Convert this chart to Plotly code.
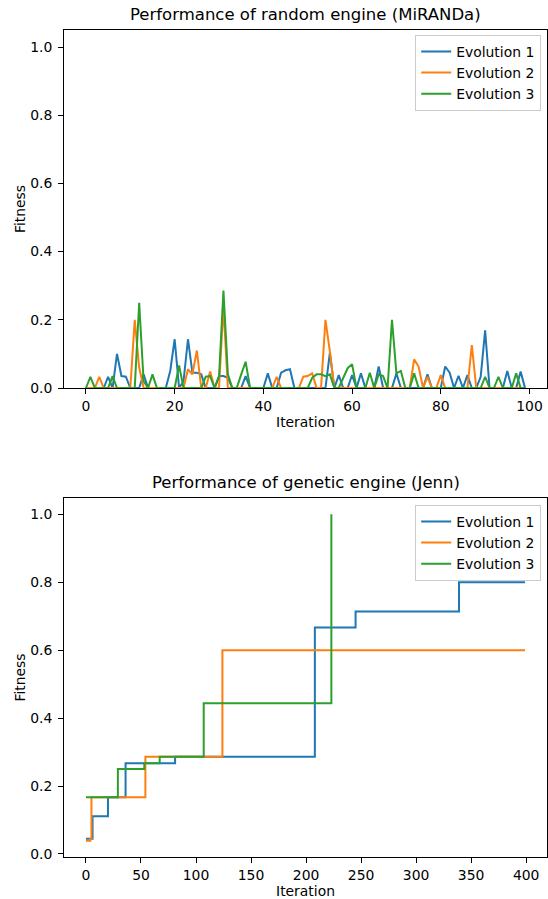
import plotly.graph_objects as go

# ---------------- data: random engine (MiRANDa) ----------------
iterations_random = list(range(100))
rand_evo1 = [0, 0, 0, 0, 0, 0.033, 0, 0.10, 0.035, 0.033,
             0, 0, 0, 0.04, 0, 0, 0, 0, 0, 0.05,
             0.143, 0, 0.02, 0.143, 0.045, 0.045, 0.04, 0, 0, 0,
             0.035, 0.035, 0.03, 0, 0, 0, 0.035, 0, 0, 0,
             0, 0.043, 0, 0, 0.045, 0.052, 0.055, 0, 0, 0,
             0, 0, 0, 0, 0, 0.104, 0, 0.038, 0, 0,
             0.038, 0, 0.043, 0, 0, 0, 0.063, 0, 0, 0,
             0.043, 0, 0, 0, 0, 0, 0, 0.04, 0, 0,
             0, 0.063, 0.045, 0, 0.036, 0, 0.038, 0, 0, 0.033,
             0.169, 0, 0, 0, 0, 0.05, 0, 0, 0.048, 0]
rand_evo2 = [0, 0, 0, 0.033, 0, 0, 0, 0, 0, 0,
             0, 0.2, 0.06, 0, 0, 0, 0, 0, 0, 0,
             0, 0, 0, 0.055, 0.04, 0.11, 0, 0, 0.048, 0,
             0, 0.24, 0, 0, 0, 0, 0, 0, 0, 0,
             0, 0, 0, 0.033, 0, 0, 0, 0, 0, 0.033,
             0.035, 0.043, 0, 0, 0.2, 0.107, 0, 0, 0, 0,
             0, 0, 0, 0, 0, 0, 0, 0, 0, 0,
             0, 0, 0, 0, 0.084, 0.063, 0, 0.033, 0, 0,
             0.038, 0, 0, 0, 0, 0, 0, 0.126, 0, 0,
             0, 0, 0, 0, 0, 0, 0, 0, 0, 0]
rand_evo3 = [0, 0.033, 0, 0, 0, 0, 0.035, 0, 0, 0,
             0, 0, 0.25, 0.02, 0, 0.04, 0, 0, 0, 0,
             0, 0.066, 0, 0, 0, 0, 0, 0.033, 0.035, 0,
             0.033, 0.286, 0.04, 0, 0, 0.04, 0.077, 0, 0, 0,
             0, 0, 0, 0, 0, 0, 0, 0, 0, 0,
             0, 0.03, 0.04, 0.04, 0.035, 0.04, 0, 0, 0.03, 0.058,
             0.07, 0, 0, 0, 0.045, 0, 0.04, 0.035, 0, 0.2,
             0.043, 0.05, 0, 0, 0.043, 0, 0, 0, 0, 0,
             0, 0, 0, 0, 0, 0, 0, 0, 0, 0,
             0.033, 0, 0, 0.033, 0, 0, 0, 0.043, 0, 0]

# ---------------- data: genetic engine (Jenn), change points ----------------
gen_evo1_iter = [0, 6, 20, 36, 81, 208, 245, 339, 399]
gen_evo1_fit = [0.045, 0.111, 0.167, 0.267, 0.286, 0.667, 0.714, 0.8, 0.8]
gen_evo2_iter = [0, 4, 5, 54, 124, 399]
gen_evo2_fit = [0.039, 0.045, 0.167, 0.286, 0.6, 0.6]
gen_evo3_iter = [0, 29, 53, 67, 107, 223]
gen_evo3_fit = [0.167, 0.25, 0.267, 0.286, 0.444, 1.0]

series_names = ["Evolution 1", "Evolution 2", "Evolution 3"]
colors = ["#1f77b4", "#ff7f0e", "#2ca02c"]
titles = ["Performance of random engine (MiRANDa)", "Performance of genetic engine (Jenn)"]

W, H = 548, 899
ML, MR, MT, MB = 64, 1, 30, 42
plot_h = H - MT - MB
top_dom = [(H - MB - 388) / plot_h, 1.0]
bot_dom = [0.0, (H - MB - 498) / plot_h]

FONT = "DejaVu Sans"
fig = go.Figure()

for name, col, ys in zip(series_names, colors, [rand_evo1, rand_evo2, rand_evo3]):
    fig.add_trace(go.Scatter(x=iterations_random, y=ys, mode="lines", name=name,
                             line=dict(color=col, width=2), xaxis="x", yaxis="y",
                             legend="legend"))

for name, col, xs, ys in zip(series_names, colors,
                             [gen_evo1_iter, gen_evo2_iter, gen_evo3_iter],
                             [gen_evo1_fit, gen_evo2_fit, gen_evo3_fit]):
    fig.add_trace(go.Scatter(x=xs, y=ys, mode="lines", name=name,
                             line=dict(color=col, width=2, shape="hv"),
                             xaxis="x2", yaxis="y2", legend="legend2"))

# matplotlib-like autoscale for bottom
all_fit = gen_evo1_fit + gen_evo2_fit + gen_evo3_fit
lo, hi = min(all_fit), max(all_fit)
m = 0.05 * (hi - lo)
bot_yrange = [lo - m, hi + m]

axis_common = dict(showline=True, mirror=True, linecolor="black", linewidth=1,
                   showgrid=False, zeroline=False, ticks="outside", ticklen=5,
                   tickwidth=1, tickcolor="black",
                   tickfont=dict(family=FONT, size=13.9, color="black"))

xtitle = dict(text="Iteration", standoff=4, font=dict(family=FONT, size=13.9, color="black"))
ytitle = dict(text="Fitness", standoff=1, font=dict(family=FONT, size=13.9, color="black"))

fig.update_layout(
    width=W, height=H, autosize=False,
    margin=dict(l=ML, r=MR, t=MT, b=MB),
    paper_bgcolor="white", plot_bgcolor="white",
    font=dict(family=FONT, size=13.9, color="black"),
    xaxis=dict(axis_common, domain=[0, 1], anchor="y", range=[-4.95, 103.95],
               tickmode="array", tickvals=[0, 20, 40, 60, 80, 100],
               ticklabelstandoff=0, title=xtitle),
    yaxis=dict(axis_common, domain=top_dom, anchor="x", range=[0, 1.05],
               tickmode="array", tickvals=[0, 0.2, 0.4, 0.6, 0.8, 1.0],
               tickformat=".1f", ticklabelstandoff=3, title=ytitle),
    xaxis2=dict(axis_common, domain=[0, 1], anchor="y2", range=[-19.95, 418.95],
                tickmode="array", tickvals=[0, 50, 100, 150, 200, 250, 300, 350, 400],
                ticklabelstandoff=0, title=xtitle),
    yaxis2=dict(axis_common, domain=bot_dom, anchor="x2", range=bot_yrange,
                tickmode="array", tickvals=[0, 0.2, 0.4, 0.6, 0.8, 1.0],
                tickformat=".1f", ticklabelstandoff=3, title=ytitle),
    legend=dict(x=0.988, xanchor="right", y=1 - 5 / plot_h, yanchor="top",
                bgcolor="rgba(255,255,255,0.8)", bordercolor="#cccccc", borderwidth=1,
                font=dict(family=FONT, size=13.9, color="black"),
                tracegroupgap=0, itemwidth=30),
    legend2=dict(x=0.988, xanchor="right", y=bot_dom[1] - 7 / plot_h, yanchor="top",
                 bgcolor="rgba(255,255,255,0.8)", bordercolor="#cccccc", borderwidth=1,
                 font=dict(family=FONT, size=13.9, color="black"),
                 tracegroupgap=0, itemwidth=30),
    showlegend=True,
)

for title, dom in zip(titles, [top_dom, bot_dom]):
    fig.add_annotation(text=title, xref="paper", yref="paper", x=0.5, y=dom[1],
                       xanchor="center", yanchor="bottom", yshift=4, showarrow=False,
                       font=dict(family=FONT, size=16.5, color="black"))

fig.write_html("out.html", config={"displayModeBar": False},
               post_script="document.body.style.margin='0';document.body.style.overflow='hidden';")
